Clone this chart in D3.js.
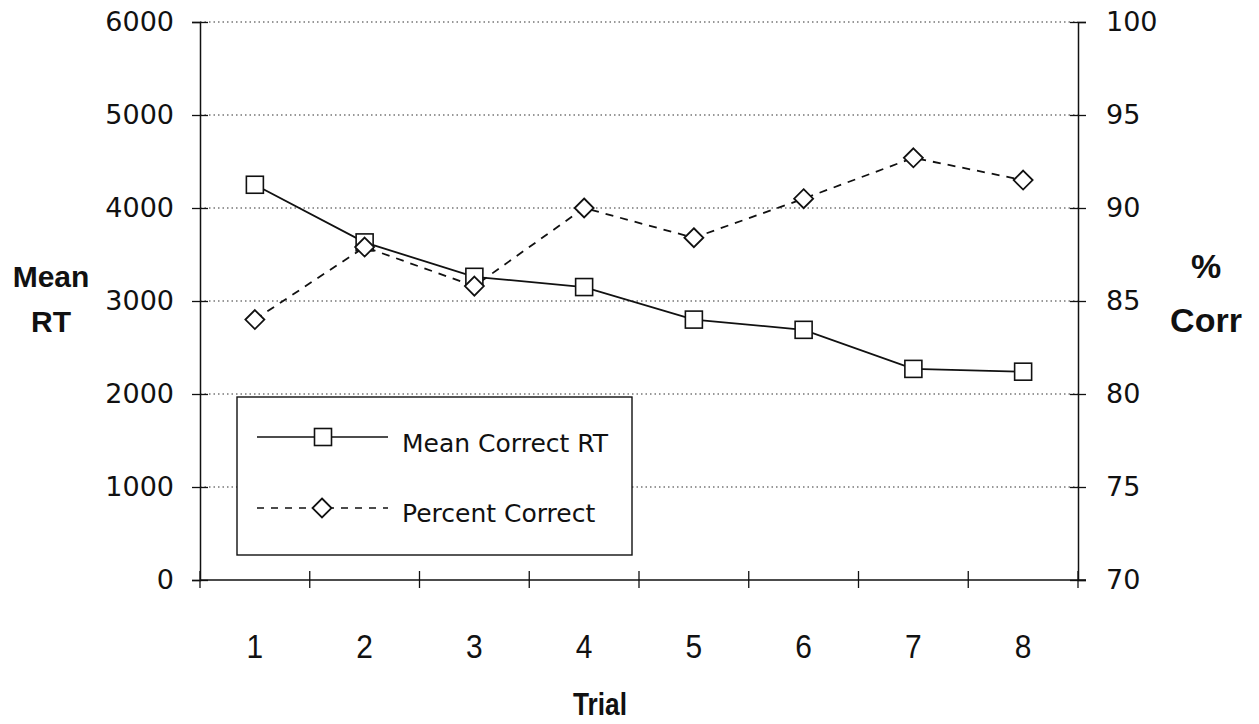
<!DOCTYPE html>
<html>
<head>
<meta charset="utf-8">
<script src="https://cdn.jsdelivr.net/npm/d3@7"></script>
<style>
  html, body { margin: 0; padding: 0; background: #fff; }
  svg { display: block; }
</style>
</head>
<body>
<svg id="chart" width="1259" height="724"></svg>
<script>
// Trials and the two measured series
const trials = ["1", "2", "3", "4", "5", "6", "7", "8"];
const meanCorrectRT = [4250, 3630, 3260, 3150, 2800, 2690, 2270, 2240];
const percentCorrect = [84.0, 87.9, 85.8, 90.0, 88.4, 90.5, 92.7, 91.5];
const rtTicks = [0, 1000, 2000, 3000, 4000, 5000, 6000];
const pctTicks = [70, 75, 80, 85, 90, 95, 100];

const svg = d3.select("#chart");
const plotL = 200, plotR = 1078, plotT = 22, plotB = 580;
const ink = "#111";

const x = d3.scaleBand().domain(trials).range([plotL, plotR]).padding(0);
const yRT = d3.scaleLinear().domain([0, 6000]).range([plotB, plotT]);
const yPct = d3.scaleLinear().domain([70, 100]).range([plotB, plotT]);
const cx = d => x(d) + x.bandwidth() / 2;

// Dotted horizontal gridlines
svg.append("g").selectAll("line")
  .data(rtTicks.filter(v => v > 0))
  .join("line")
  .attr("x1", plotL).attr("x2", plotR)
  .attr("y1", d => yRT(d)).attr("y2", d => yRT(d))
  .attr("stroke", "#333").attr("stroke-width", 1.2)
  .attr("stroke-dasharray", "1.5,3");

// Left axis (Mean RT)
const gL = svg.append("g").attr("transform", `translate(${plotL},0)`)
  .call(d3.axisLeft(yRT).tickValues(rtTicks).tickFormat(d3.format("d")).tickSize(8).tickPadding(18));
gL.selectAll(".tick line").attr("x1", -8).attr("x2", 8);
gL.selectAll(".tick text").attr("font-family", "DejaVu Sans").attr("font-size", 27).attr("fill", ink);

// Right axis (% Correct)
const gR = svg.append("g").attr("transform", `translate(${plotR},0)`)
  .call(d3.axisRight(yPct).tickValues(pctTicks).tickSize(8).tickPadding(20));
gR.selectAll(".tick line").attr("x1", -8).attr("x2", 8);
gR.selectAll(".tick text").attr("font-family", "DejaVu Sans").attr("font-size", 27).attr("fill", ink);

// Bottom axis: ticks on category boundaries, labels at category centres
const gB = svg.append("g").attr("transform", `translate(0,${plotB})`);
gB.append("line").attr("x1", plotL).attr("x2", plotR + 8).attr("stroke", ink).attr("stroke-width", 1.5);
const bounds = trials.map(t => x(t)).concat([plotR]);
gB.selectAll("line.tk").data(bounds).join("line").attr("class", "tk")
  .attr("x1", d => d).attr("x2", d => d).attr("y1", -9).attr("y2", 8)
  .attr("stroke", ink).attr("stroke-width", 1.3);
gB.selectAll("text").data(trials).join("text")
  .attr("transform", d => `translate(${cx(d)},78) scale(0.88,1)`)
  .attr("text-anchor", "middle")
  .attr("font-family", "Liberation Sans, sans-serif")
  .attr("font-size", 34).attr("fill", ink)
  .text(d => d);

svg.selectAll(".domain").attr("stroke", ink).attr("stroke-width", 1.5);
svg.selectAll(".tick line").attr("stroke", ink).attr("stroke-width", 1.3);

// Axis titles
svg.append("text").attr("transform", "translate(600,715) scale(0.82,1)").attr("text-anchor", "middle")
  .attr("font-family", "Liberation Sans, sans-serif")
  .attr("font-weight", "bold").attr("font-size", 32).attr("fill", ink).text("Trial");
const lt = svg.append("text").attr("text-anchor", "middle")
  .attr("font-family", "Liberation Sans").attr("font-weight", "bold")
  .attr("font-size", 30).attr("fill", ink);
lt.append("tspan").attr("x", 51).attr("y", 287).text("Mean");
lt.append("tspan").attr("x", 51).attr("y", 332).text("RT");
const rt = svg.append("text").attr("text-anchor", "middle")
  .attr("font-family", "Liberation Sans").attr("font-weight", "bold")
  .attr("font-size", 34).attr("fill", ink);
rt.append("tspan").attr("x", 1206).attr("y", 278).text("%");
rt.append("tspan").attr("x", 1206).attr("y", 332).text("Corr");

// Series lines
const lineRT = d3.line().x((d, i) => cx(trials[i])).y(d => yRT(d));
const linePct = d3.line().x((d, i) => cx(trials[i])).y(d => yPct(d));

svg.append("path").datum(percentCorrect).attr("d", linePct)
  .attr("fill", "none").attr("stroke", ink).attr("stroke-width", 1.8)
  .attr("stroke-dasharray", "8,7");
svg.append("path").datum(meanCorrectRT).attr("d", lineRT)
  .attr("fill", "none").attr("stroke", ink).attr("stroke-width", 1.8);

// Markers
const sq = 17, dm = 9.5;
const diamond = (px, py) => `M${px},${py - dm}L${px + dm},${py}L${px},${py + dm}L${px - dm},${py}Z`;

svg.append("g").selectAll("rect").data(meanCorrectRT).join("rect")
  .attr("x", (d, i) => cx(trials[i]) - sq / 2).attr("y", d => yRT(d) - sq / 2)
  .attr("width", sq).attr("height", sq)
  .attr("fill", "#fff").attr("stroke", ink).attr("stroke-width", 1.6);
svg.append("g").selectAll("path").data(percentCorrect).join("path")
  .attr("d", (d, i) => diamond(cx(trials[i]), yPct(d)))
  .attr("fill", "#fff").attr("stroke", ink).attr("stroke-width", 1.8);

// Legend
const lg = svg.append("g");
lg.append("rect").attr("x", 237).attr("y", 397).attr("width", 395).attr("height", 158)
  .attr("fill", "#fff").attr("stroke", ink).attr("stroke-width", 1.4);
lg.append("line").attr("x1", 257).attr("x2", 388).attr("y1", 437).attr("y2", 437)
  .attr("stroke", ink).attr("stroke-width", 1.6);
lg.append("rect").attr("x", 323 - sq / 2).attr("y", 437 - sq / 2).attr("width", sq).attr("height", sq)
  .attr("fill", "#fff").attr("stroke", ink).attr("stroke-width", 1.6);
lg.append("line").attr("x1", 257).attr("x2", 388).attr("y1", 508).attr("y2", 508)
  .attr("stroke", ink).attr("stroke-width", 1.4).attr("stroke-dasharray", "7,7");
lg.append("path").attr("d", diamond(322, 508))
  .attr("fill", "#fff").attr("stroke", ink).attr("stroke-width", 1.8);
lg.append("text").attr("x", 402).attr("y", 452)
  .attr("font-family", "DejaVu Sans").attr("font-size", 25).attr("fill", ink)
  .text("Mean Correct RT");
lg.append("text").attr("x", 402).attr("y", 522)
  .attr("font-family", "DejaVu Sans").attr("font-size", 25).attr("fill", ink)
  .text("Percent Correct");
</script>
</body>
</html>
